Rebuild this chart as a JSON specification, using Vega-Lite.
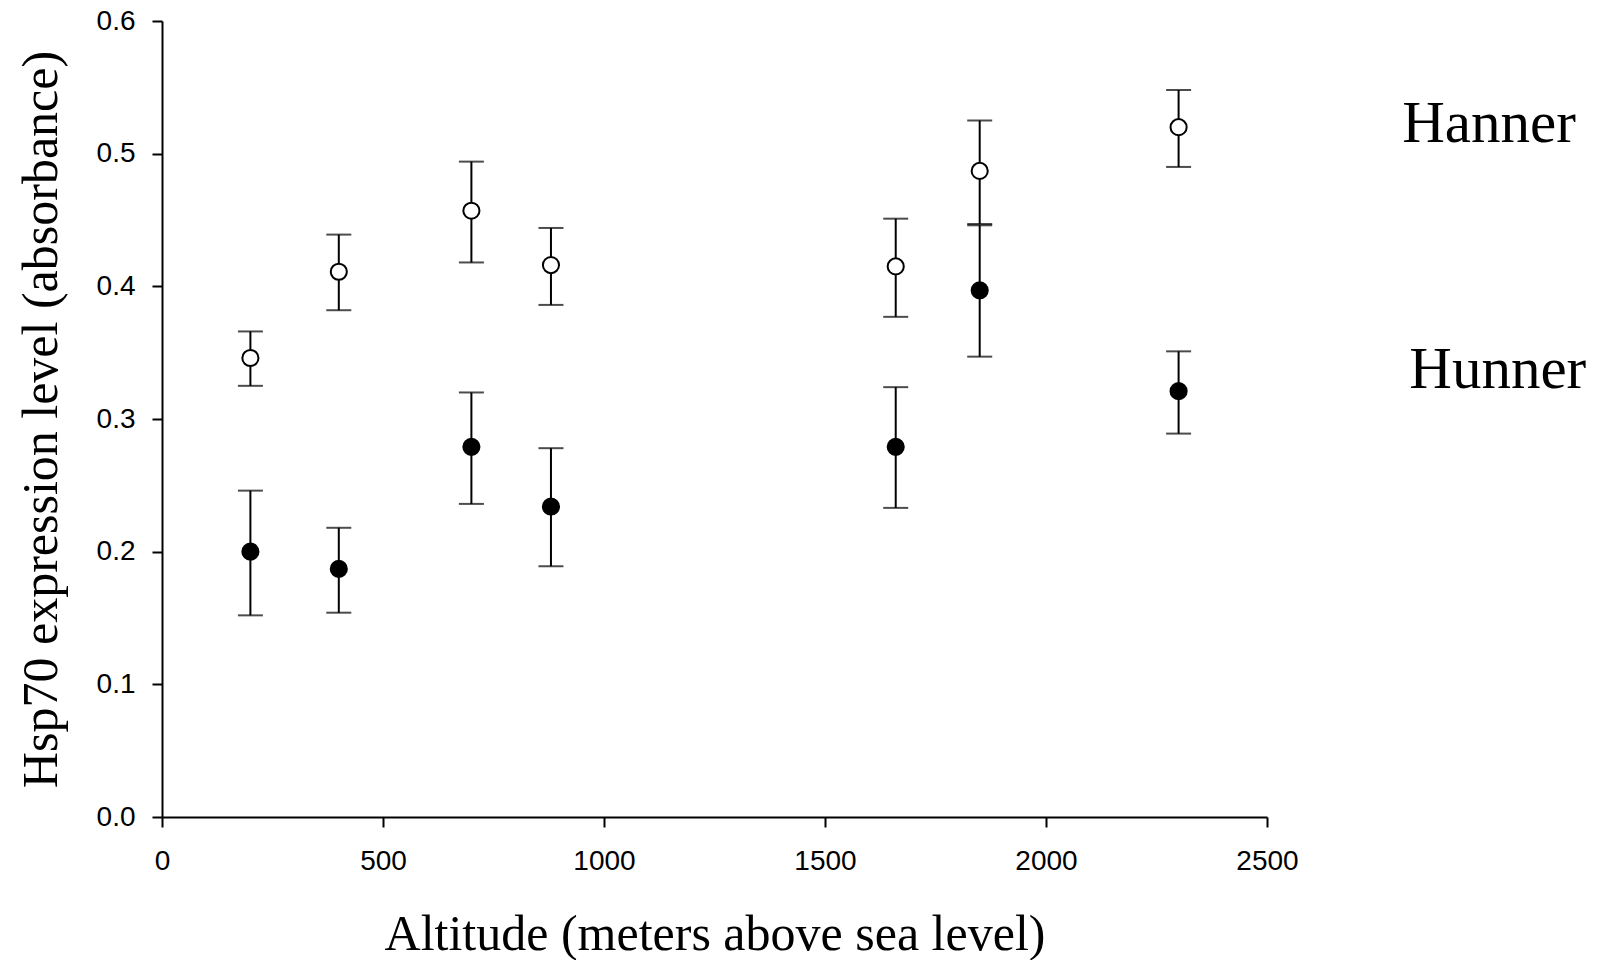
{
  "$schema": "https://vega.github.io/schema/vega-lite/v6.json",
  "autosize": {"type": "none"},
  "width": 1105,
  "height": 796,
  "padding": {"left": 162, "top": 21, "right": 337, "bottom": 143},
  "background": "white",
  "config": {
    "view": {"stroke": null},
    "axis": {
      "grid": false,
      "domainColor": "black",
      "domainWidth": 2,
      "tickColor": "black",
      "tickWidth": 2,
      "tickSize": 10,
      "labelFont": "Liberation Sans",
      "labelFontSize": 28,
      "labelColor": "black",
      "labelFlush": false,
      "titleFont": "Liberation Serif",
      "titleFontWeight": "normal",
      "titleColor": "black"
    }
  },
  "datasets": {
    "pts": [
      {"alt": 200, "group": "Hanner", "mean": 0.346, "lo": 0.325, "hi": 0.366},
      {"alt": 400, "group": "Hanner", "mean": 0.411, "lo": 0.382, "hi": 0.439},
      {"alt": 700, "group": "Hanner", "mean": 0.457, "lo": 0.418, "hi": 0.494},
      {"alt": 880, "group": "Hanner", "mean": 0.416, "lo": 0.386, "hi": 0.444},
      {"alt": 1660, "group": "Hanner", "mean": 0.415, "lo": 0.377, "hi": 0.451},
      {"alt": 1850, "group": "Hanner", "mean": 0.487, "lo": 0.447, "hi": 0.525},
      {"alt": 2300, "group": "Hanner", "mean": 0.520, "lo": 0.490, "hi": 0.548},
      {"alt": 200, "group": "Hunner", "mean": 0.200, "lo": 0.152, "hi": 0.246},
      {"alt": 400, "group": "Hunner", "mean": 0.187, "lo": 0.154, "hi": 0.218},
      {"alt": 700, "group": "Hunner", "mean": 0.279, "lo": 0.236, "hi": 0.320},
      {"alt": 880, "group": "Hunner", "mean": 0.234, "lo": 0.189, "hi": 0.278},
      {"alt": 1660, "group": "Hunner", "mean": 0.279, "lo": 0.233, "hi": 0.324},
      {"alt": 1850, "group": "Hunner", "mean": 0.397, "lo": 0.347, "hi": 0.446},
      {"alt": 2300, "group": "Hunner", "mean": 0.321, "lo": 0.289, "hi": 0.351}
    ],
    "labels": [
      {"label": "Hanner", "x": 2806, "y": 0.522},
      {"label": "Hunner", "x": 2822, "y": 0.337}
    ]
  },
  "layer": [
    {
      "data": {"name": "pts"},
      "mark": {"type": "rule", "color": "black", "strokeWidth": 2},
      "encoding": {
        "x": {"field": "alt", "type": "quantitative", "scale": {"domain": [0, 2500], "nice": false},
          "axis": {"values": [0, 500, 1000, 1500, 2000, 2500], "format": "d", "title": "Altitude (meters above sea level)", "titleFontSize": 50, "titlePadding": 34, "labelPadding": 20}},
        "y": {"field": "lo", "type": "quantitative", "scale": {"domain": [0, 0.6], "nice": false},
          "axis": {"values": [0, 0.1, 0.2, 0.3, 0.4, 0.5, 0.6], "format": ".1f", "title": "Hsp70 expression level (absorbance)", "titleFontSize": 50, "titlePadding": 30, "labelPadding": 17}},
        "y2": {"field": "hi"}
      }
    },
    {
      "data": {"name": "pts"},
      "mark": {"type": "tick", "orient": "horizontal", "color": "black", "size": 25, "thickness": 2},
      "encoding": {
        "x": {"field": "alt", "type": "quantitative"},
        "y": {"field": "lo", "type": "quantitative"}
      }
    },
    {
      "data": {"name": "pts"},
      "mark": {"type": "tick", "orient": "horizontal", "color": "black", "size": 25, "thickness": 2},
      "encoding": {
        "x": {"field": "alt", "type": "quantitative"},
        "y": {"field": "hi", "type": "quantitative"}
      }
    },
    {
      "data": {"name": "pts"},
      "mark": {"type": "point", "shape": "circle", "size": 260, "strokeWidth": 2, "opacity": 1},
      "encoding": {
        "x": {"field": "alt", "type": "quantitative"},
        "y": {"field": "mean", "type": "quantitative"},
        "fill": {"field": "group", "type": "nominal", "scale": {"domain": ["Hanner", "Hunner"], "range": ["white", "black"]}, "legend": null},
        "stroke": {"value": "black"}
      }
    },
    {
      "data": {"name": "labels"},
      "mark": {"type": "text", "align": "left", "baseline": "middle", "font": "Liberation Serif", "fontSize": 59, "color": "black", "clip": false},
      "encoding": {
        "x": {"field": "x", "type": "quantitative"},
        "y": {"field": "y", "type": "quantitative"},
        "text": {"field": "label"}
      }
    }
  ]
}
